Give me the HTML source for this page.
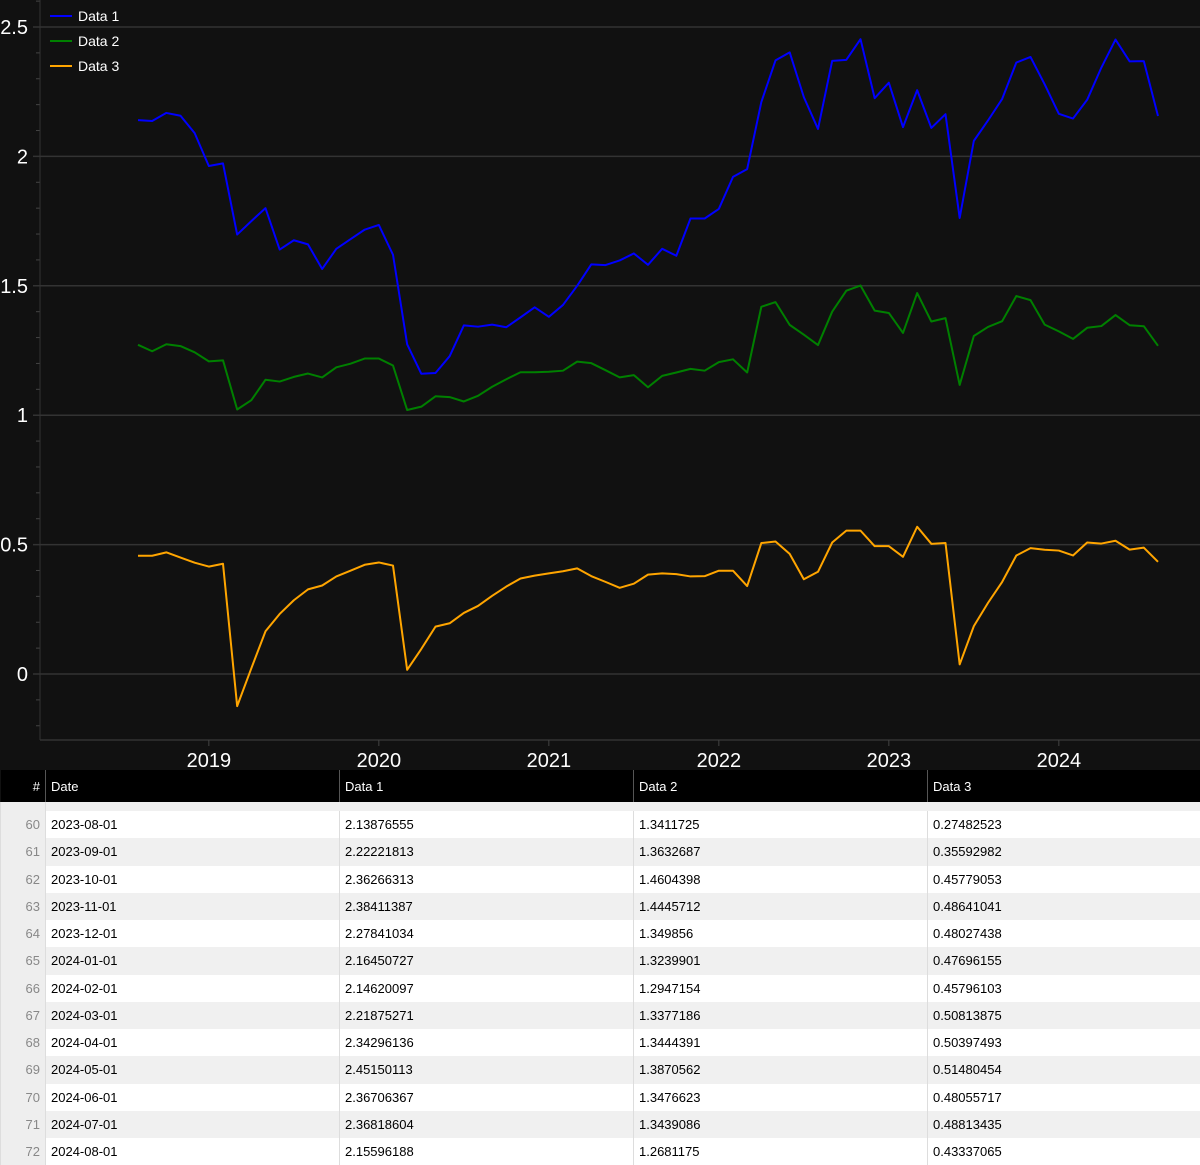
<!DOCTYPE html>
<html><head><meta charset="utf-8"><style>
body{margin:0;width:1200px;height:1161px;background:#111;font-family:"Liberation Sans",Arial,sans-serif;overflow:hidden}
#chart{position:absolute;left:0;top:0}
table{position:absolute;left:0;top:770px;width:1200px;border-collapse:collapse;font-size:13px;color:#000}
th{background:#000;color:#fff;font-weight:normal;text-align:left;height:32px;padding:0 5px;border-left:1px solid #555}
td{height:27.25px;padding:0 5px;border-left:1px solid #ddd}
td.i{color:#888;text-align:right;background:#eee;width:34px}
tr.r:nth-child(odd) td{background:#fff}
tr.r:nth-child(even) td{background:#f0f0f0}
tr.r td.i{background:#eee}
</style></head><body>
<svg id="chart" width="1200" height="770"></svg>
<table>
<thead><tr><th style="text-align:right;width:34px;border-left:none">#</th><th style="width:283px">Date</th><th style="width:283px">Data 1</th><th style="width:283px">Data 2</th><th>Data 3</th></tr>
<tr><td class="i" style="height:9px"></td><td colspan="4" style="height:9px;background:#f0f0f0"></td></tr></thead>
<tbody id="tb"></tbody></table>
<script>
const dates=[];for(let i=0;i<73;i++){const y=2018+Math.floor((7+i)/12),m=(7+i)%12+1;dates.push(y+'-'+String(m).padStart(2,'0')+'-01');}
const data1=[2.14,2.137,2.168,2.157,2.09,1.963,1.973,1.698,1.75,1.80,1.64,1.676,1.66,1.565,1.643,1.68,1.717,1.735,1.62,1.274,1.16,1.163,1.228,1.347,1.342,1.35,1.34,1.378,1.417,1.38,1.426,1.50,1.583,1.58,1.598,1.625,1.581,1.643,1.616,1.76,1.76,1.797,1.921,1.951,2.21,2.371,2.402,2.229,2.106,2.369,2.373,2.453,2.225,2.285,2.113,2.256,2.11,2.163,1.762,2.06,2.13876555,2.22221813,2.36266313,2.38411387,2.27841034,2.16450727,2.14620097,2.21875271,2.34296136,2.45150113,2.36706367,2.36818604,2.15596188];
const data2=[1.272,1.247,1.274,1.267,1.243,1.208,1.212,1.022,1.058,1.137,1.13,1.148,1.161,1.146,1.185,1.199,1.219,1.219,1.192,1.02,1.033,1.073,1.07,1.053,1.075,1.11,1.139,1.166,1.166,1.168,1.172,1.207,1.201,1.174,1.146,1.155,1.108,1.152,1.165,1.179,1.172,1.205,1.216,1.165,1.419,1.437,1.349,1.311,1.271,1.40,1.481,1.501,1.404,1.395,1.318,1.472,1.362,1.375,1.117,1.306,1.3411725,1.3632687,1.4604398,1.4445712,1.349856,1.3239901,1.2947154,1.3377186,1.3444391,1.3870562,1.3476623,1.3439086,1.2681175];
const data3=[0.457,0.457,0.47,0.45,0.43,0.415,0.426,-0.124,0.022,0.165,0.232,0.285,0.327,0.342,0.377,0.399,0.422,0.431,0.419,0.016,0.097,0.183,0.196,0.236,0.263,0.302,0.338,0.369,0.38,0.389,0.397,0.408,0.378,0.356,0.333,0.349,0.384,0.389,0.386,0.377,0.378,0.399,0.399,0.34,0.506,0.512,0.464,0.366,0.395,0.508,0.554,0.554,0.494,0.494,0.453,0.569,0.503,0.506,0.037,0.185,0.27482523,0.35592982,0.45779053,0.48641041,0.48027438,0.47696155,0.45796103,0.50813875,0.50397493,0.51480454,0.48055717,0.48813435,0.43337065];
const yTicks=[0,0.5,1,1.5,2,2.5];
const yTickLabels=['0','0.5','1','1.5','2','2.5'];
const xYears=[2019,2020,2021,2022,2023,2024];
const NS='http://www.w3.org/2000/svg',svg=document.getElementById('chart');
const yS=v=>674-v*258.8;
const xS=i=>138+i*(170/12);
function el(t,a,p){const e=document.createElementNS(NS,t);for(const k in a)e.setAttribute(k,a[k]);(p||svg).appendChild(e);return e;}
el('rect',{x:0,y:0,width:1200,height:770,fill:'#111'});
for(let k=-3;k<=27;k++){const v=k/10;if(v<-0.25)continue;const t=el('line',{x1:36,x2:40,y1:yS(v),y2:yS(v),stroke:'#444'});}
yTicks.forEach((v,j)=>{const g=el('line',{x1:33,x2:1200,y1:yS(v),y2:yS(v),stroke:'#333','stroke-width':1.5});
const t=el('text',{x:28,y:yS(v)+7,'text-anchor':'end',fill:'#fff','font-size':20});t.textContent=yTickLabels[j];});
const ax=el('line',{x1:40,x2:40,y1:0,y2:740,stroke:'#333'});
const bx=el('line',{x1:40,x2:1200,y1:740,y2:740,stroke:'#333','stroke-width':1.5});
xYears.forEach(yr=>{const x=xS((yr-2018)*12-7);const tk=el('line',{x1:x,x2:x,y1:740,y2:746,stroke:'#444'});
const t=el('text',{x:x,y:767,'text-anchor':'middle',fill:'#fff','font-size':20});t.textContent=yr;});
const series=[[data1,'#0000ff','Data 1'],[data2,'#008000','Data 2'],[data3,'#ffa500','Data 3']];
series.forEach(([d,c,n],j)=>{const p=el('polyline',{points:d.map((v,i)=>xS(i)+','+yS(v)).join(' '),fill:'none',stroke:c,'stroke-width':2,'stroke-linejoin':'round'});
const g=el('g',{});
el('line',{x1:50,x2:72,y1:16+j*25,y2:16+j*25,stroke:c,'stroke-width':2},g);
const t=el('text',{x:78,y:21+j*25,fill:'#fff','font-size':14},g);t.textContent=n;});
const tb=document.getElementById('tb');
for(let i=60;i<=72;i++){const tr=document.createElement('tr');tr.className='r';


tr.innerHTML='<td class="i">'+i+'</td><td>'+dates[i]+'</td><td>'+data1[i]+'</td><td>'+data2[i]+'</td><td>'+data3[i]+'</td>';tb.appendChild(tr);}
</script>
</body></html>
